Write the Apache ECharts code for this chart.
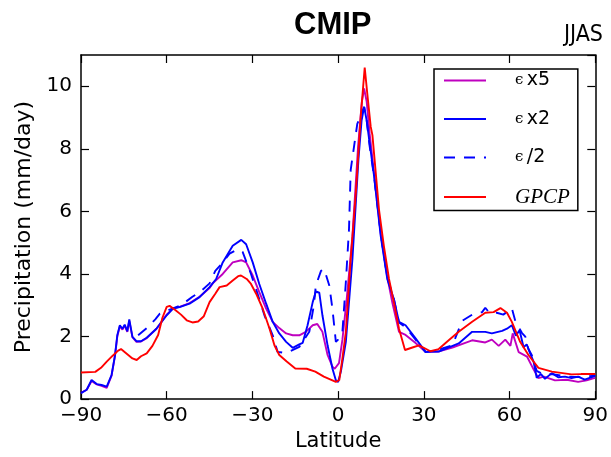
<!DOCTYPE html>
<html>
<head>
<meta charset="utf-8">
<script src="https://cdn.jsdelivr.net/npm/echarts@6/dist/echarts.min.js"></script>
<style>html,body{margin:0;padding:0;background:#fff;}#c{width:611px;height:457px;}</style>
</head>
<body>
<div id="c"></div>
<script>
// Tick values
const xTicks = [-90, -60, -30, 0, 30, 60, 90];
const yTicks = [0, 2, 4, 6, 8, 10];
const seriesNames = ['ϵ x5', 'ϵ x2', 'ϵ /2', 'GPCP'];

// [latitude, precipitation (mm/day)]
const epsX5 = [[-90,0.2],[-88,0.3],[-86.3,0.58],[-84.5,0.47],[-82.8,0.42],[-81,0.36],[-79.3,0.75],[-78.1,1.38],[-77.3,2.0],[-76.4,2.33],[-75.5,2.22],[-74.7,2.35],[-73.8,2.15],[-73.1,2.5],[-72,1.98],[-70.6,1.83],[-69,1.84],[-67,1.95],[-63.6,2.25],[-60,2.7],[-57.8,2.9],[-55.5,2.95],[-52,3.07],[-48.5,3.27],[-45,3.55],[-43.9,3.7],[-40.4,4.0],[-36.9,4.37],[-33.9,4.44],[-32.2,4.37],[-29.9,3.95],[-27.6,3.42],[-25.2,2.89],[-22.9,2.47],[-20.6,2.27],[-18.2,2.1],[-15.9,2.04],[-13.6,2.04],[-11.3,2.15],[-8.9,2.36],[-7.3,2.4],[-5.5,2.15],[-3.7,1.41],[-2,1.04],[-1.2,0.97],[0.3,1.15],[1.5,1.9],[3,3.2],[5,5.2],[7,8.1],[8.3,9.5],[9.1,9.93],[10,9.5],[11,8.5],[12.6,7.2],[14.9,5.3],[17.2,3.9],[19,3.07],[21.3,2.15],[23.6,2.05],[27,1.8],[30.6,1.51],[35,1.52],[40,1.65],[44.5,1.8],[46.9,1.88],[51.5,1.81],[53.8,1.9],[56.2,1.7],[58.5,1.9],[60.3,1.7],[61.1,2.1],[63.2,1.5],[66.1,1.36],[68.4,0.95],[70.1,0.67],[72,0.72],[75.9,0.6],[80,0.62],[84,0.55],[87,0.6],[89.3,0.66],[90,0.68]];

const epsX2 = [[-90,0.19],[-88,0.3],[-86.3,0.61],[-84.5,0.48],[-82.8,0.45],[-81,0.4],[-79.3,0.77],[-78.1,1.4],[-77.3,2.04],[-76.4,2.36],[-75.5,2.25],[-74.7,2.38],[-73.8,2.17],[-73.1,2.55],[-72,1.99],[-70.6,1.85],[-69,1.85],[-67,1.96],[-63.6,2.25],[-60,2.68],[-57.8,2.89],[-55.5,2.94],[-52,3.05],[-48.5,3.26],[-45,3.58],[-42.7,3.84],[-40.4,4.37],[-36.9,4.9],[-33.9,5.09],[-32.2,4.95],[-29.9,4.37],[-27.6,3.68],[-25.2,3.05],[-22.9,2.47],[-20.6,2.1],[-18.2,1.83],[-15.9,1.64],[-13.6,1.75],[-12.4,1.8],[-10.7,2.36],[-8.9,3.1],[-7.8,3.44],[-6.6,3.4],[-5.5,2.68],[-3.7,1.72],[-2,0.98],[-0.8,0.6],[0,0.55],[1,0.9],[2.7,1.83],[5,4.48],[7.1,7.65],[8.2,8.9],[9.1,9.34],[10,8.9],[11,8.2],[12.6,7.12],[14.9,5.22],[17.2,3.84],[19.5,3.2],[21.3,2.47],[23.6,2.36],[27.1,1.94],[30.6,1.51],[35.2,1.52],[42.2,1.78],[46.9,2.15],[51.5,2.15],[53.8,2.1],[57.4,2.18],[59.1,2.25],[60.8,2.36],[62.2,2.03],[63.5,2.2],[64.9,1.66],[66,1.75],[67.2,1.46],[68.4,1.2],[69.5,0.68],[71,0.8],[72.4,0.65],[74.8,0.83],[77,0.7],[79.4,0.72],[81.7,0.67],[84,0.72],[86.3,0.62],[89.3,0.72],[90,0.75]];

const epsHalf = [[-70,2.04],[-67,2.27],[-64,2.55],[-62.4,2.73],[-60,2.82],[-55,3.0],[-51,3.27],[-48,3.45],[-45,3.7],[-43,4.1],[-41,4.3],[-38,4.65],[-36,4.75],[-34.5,4.78],[-33.4,4.7],[-30.5,4.0],[-27.6,3.2],[-25.8,2.68],[-22.9,2.04],[-21.2,1.51],[-19,1.48],[-17.1,1.52],[-13.6,1.67],[-10.1,2.15],[-8.5,3.0],[-7.8,3.63],[-6,4.1],[-4.9,4.16],[-3.1,3.63],[-2,2.89],[-0.8,1.83],[0,1.9],[1.5,2.15],[2.7,3.74],[3.8,5.43],[4.4,7.33],[6.7,8.8],[9.1,9.34],[10,8.9],[11,8.1],[12.6,7.1],[14.9,5.3],[17.2,3.9],[19.5,3.2],[21.3,2.45],[23.6,2.3],[27.1,1.9],[30.6,1.5],[35.2,1.58],[40,1.72],[43.4,2.5],[46.9,2.7],[50.4,2.78],[51.5,2.92],[53,2.75],[55.5,2.76],[57.8,2.7],[59,2.78],[60.8,2.9],[62,2.5],[64.3,2.12],[65.5,2.0],[66.6,1.6],[67.8,1.4],[69.5,0.9],[72,0.78],[75,0.8],[80,0.72],[85,0.7],[90,0.75]];

const gpcp = [[-90,0.85],[-85,0.87],[-83,1.0],[-81,1.2],[-79,1.38],[-77,1.55],[-76,1.6],[-74,1.45],[-72,1.3],[-70.5,1.25],[-69,1.37],[-67,1.46],[-65,1.7],[-63,2.05],[-61.5,2.6],[-60,2.95],[-59,2.98],[-57,2.85],[-55,2.7],[-53,2.52],[-51,2.45],[-49,2.48],[-47,2.65],[-45,3.1],[-43,3.37],[-41.5,3.58],[-39,3.63],[-37,3.78],[-35,3.93],[-34,3.95],[-32,3.84],[-30.5,3.68],[-28.7,3.37],[-26.4,2.89],[-24,2.25],[-22.3,1.72],[-20.6,1.41],[-18,1.2],[-15,0.98],[-11,0.97],[-8,0.88],[-5,0.72],[-2,0.6],[-0.8,0.55],[0.4,0.61],[1.5,1.3],[2.7,2.15],[4.4,4.48],[6.2,6.59],[7.9,9.03],[9.3,10.6],[10.2,9.77],[11.4,8.71],[12,8.44],[14.3,6.06],[16,4.9],[17.8,3.84],[19.5,3.1],[21.3,2.25],[23.4,1.57],[26,1.65],[28.3,1.72],[32.3,1.53],[35.2,1.6],[38.7,1.88],[42.2,2.15],[46.9,2.47],[51.5,2.76],[54.4,2.78],[56.8,2.91],[59.1,2.76],[60.8,2.47],[63.7,1.83],[66.6,1.41],[70.1,1.0],[74.8,0.88],[81.7,0.79],[85,0.8],[90,0.8]];

const chart = echarts.init(document.getElementById('c'), null, {renderer: 'canvas'});
const fmtX = v => (v < 0 ? '\u2212' + (-v) : String(v));
const fmtY = v => (yTicks.indexOf(v) >= 0 ? String(v) : '');
const sans = 'DejaVu Sans';
const axisCommon = {
  type: 'value',
  axisLine: {show: true, onZero: false, lineStyle: {color: '#000', width: 1.5}},
  axisTick: {show: true, inside: true, length: 8, lineStyle: {color: '#000', width: 1.2}},
  splitLine: {show: false}
};
chart.setOption({
  animation: false,
  backgroundColor: '#fff',
  title: [
    {text: 'CMIP', left: 294, top: 10, padding: 0,
     textStyle: {fontFamily: 'Liberation Sans', fontWeight: 'bold', fontSize: 31, color: '#000'}},
    {text: 'JJAS', right: 8, top: 24, padding: 0,
     textStyle: {fontFamily: '"DejaVu Sans Condensed", "Liberation Sans Narrow", sans-serif', fontWeight: 'normal', fontSize: 23, color: '#000'}}
  ],
  grid: {left: 81, right: 14, top: 55, bottom: 56, containLabel: false},
  legend: {
    orient: 'vertical', left: 434, top: 69,
    data: seriesNames,
    itemWidth: 42, itemHeight: 20, itemGap: 19.5,
    padding: [2, 8, 3, 9],
    borderColor: '#000', borderWidth: 1.5,
    backgroundColor: '#fff',
    selectedMode: false,
    itemStyle: {opacity: 0, borderWidth: 0},
    formatter: function (name) {
      if (name === 'GPCP') return '{s|}{g|GPCP}';
      const parts = name.split(' ');
      return '{s|}{e|' + parts[0] + '} {t|' + parts[1] + '}';
    },
    textStyle: {
      color: '#000',
      rich: {
        s: {width: 24, lineHeight: 20},
        e: {fontFamily: 'DejaVu Serif', fontSize: 15, lineHeight: 20, color: '#000'},
        t: {fontFamily: sans, fontSize: 19, lineHeight: 20, color: '#000'},
        g: {fontFamily: 'Liberation Serif', fontStyle: 'italic', fontSize: 21, lineHeight: 20, color: '#000'}
      }
    }
  },
  xAxis: [
    Object.assign({}, axisCommon, {
      position: 'bottom', min: -90, max: 90, interval: 30,
      name: 'Latitude', nameLocation: 'middle', nameGap: 31,
      nameTextStyle: {fontFamily: sans, fontSize: 21, color: '#000'},
      axisLabel: {formatter: fmtX, fontFamily: sans, fontSize: 20, color: '#000', margin: 7}
    }),
    Object.assign({}, axisCommon, {
      position: 'top', min: -90, max: 90, interval: 30,
      axisLabel: {show: false}
    })
  ],
  yAxis: [
    Object.assign({}, axisCommon, {
      position: 'left', min: 0, max: 11, interval: 2,
      name: 'Precipitation (mm/day)', nameLocation: 'middle', nameGap: 36,
      nameTextStyle: {fontFamily: sans, fontSize: 22, color: '#000'},
      axisLabel: {formatter: fmtY, showMaxLabel: false, fontFamily: sans, fontSize: 20, color: '#000', margin: 9}
    }),
    Object.assign({}, axisCommon, {
      position: 'right', min: 0, max: 11, interval: 2,
      axisLabel: {show: false}
    })
  ],
  series: [
    {name: seriesNames[0], type: 'line', data: epsX5, symbol: 'none', clip: true,
     lineStyle: {color: '#bf00bf', width: 1.9}, itemStyle: {color: '#bf00bf'}},
    {name: seriesNames[1], type: 'line', data: epsX2, symbol: 'none', clip: true,
     lineStyle: {color: '#0000ff', width: 1.9}, itemStyle: {color: '#0000ff'}},
    {name: seriesNames[2], type: 'line', data: epsHalf, symbol: 'none', clip: true,
     lineStyle: {color: '#0000ff', width: 1.9, type: [11, 9]}, itemStyle: {color: '#0000ff'}},
    {name: seriesNames[3], type: 'line', data: gpcp, symbol: 'none', clip: true,
     lineStyle: {color: '#ff0000', width: 1.9}, itemStyle: {color: '#ff0000'}}
  ]
});
</script>
</body>
</html>
